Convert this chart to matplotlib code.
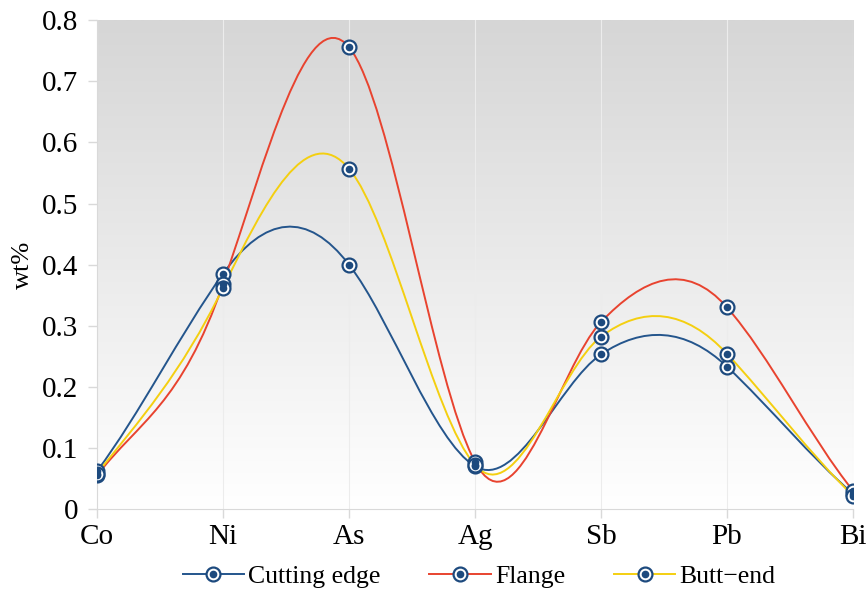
import numpy as np
import matplotlib
matplotlib.use("Agg")
import matplotlib.pyplot as plt
from matplotlib.path import Path
from matplotlib.patches import PathPatch
from matplotlib.lines import Line2D
from matplotlib.colors import LinearSegmentedColormap

# data (wt%)
elements = ["Co", "Ni", "As", "Ag", "Sb", "Pb", "Bi"]
cutting_edge = [0.062, 0.385, 0.400, 0.070, 0.253, 0.233, 0.025]
flange = [0.055, 0.368, 0.756, 0.077, 0.306, 0.330, 0.030]
butt_end = [0.058, 0.362, 0.557, 0.072, 0.282, 0.254, 0.022]

series_names = ["Cutting edge", "Flange", "Butt\u2212end"]
line_colors = ["#24558c", "#e8432f", "#f4cf10"]
marker_dark = "#1d4a7e"

plt.rcParams["font.family"] = ["Liberation Serif", "DejaVu Serif"]

fig = plt.figure(figsize=(8.66, 5.96), dpi=100)
ax = fig.add_axes([0.112, 0.146, 0.873, 0.820])

x = np.arange(len(elements))


def smooth_path(xs, ys, k=1.7):
    # excel-like smoothed line: cubic bezier segments through the points
    n = len(ys)
    m = []
    for i in range(n):
        a = ys[max(i - 1, 0)]
        b = ys[min(i + 1, n - 1)]
        m.append(k * (b - a) / 2.0)
    verts = [(xs[0], ys[0])]
    codes = [Path.MOVETO]
    for i in range(n - 1):
        verts += [(xs[i] + 1 / 3, ys[i] + m[i] / 3),
                  (xs[i + 1] - 1 / 3, ys[i + 1] - m[i + 1] / 3),
                  (xs[i + 1], ys[i + 1])]
        codes += [Path.CURVE4] * 3
    return Path(verts, codes)


# grey-to-white background
cmap = LinearSegmentedColormap.from_list("bg", ["#ffffff", "#d6d6d6"])
ax.imshow(np.linspace(0, 1, 256).reshape(-1, 1), cmap=cmap, aspect="auto",
          extent=[0, 1, 0, 1], origin="lower", transform=ax.transAxes, zorder=0)

handles = []
for vals, col, name in zip([cutting_edge, flange, butt_end], line_colors, series_names):
    ax.add_patch(PathPatch(smooth_path(x, vals), fill=False, edgecolor=col,
                           lw=1.4, zorder=3))
    ax.plot(x, vals, ls="none", marker="o", ms=10, mfc="white", mec=marker_dark,
            mew=1.6, zorder=4)
    ax.plot(x, vals, ls="none", marker="o", ms=4.5, color=marker_dark, zorder=5)
    h1 = Line2D([], [], color=col, lw=1.4, marker="o", ms=10, mfc="white",
                mec=marker_dark, mew=1.6)
    h2 = Line2D([], [], ls="none", marker="o", ms=4.5, color=marker_dark)
    handles.append((h1, h2))

ax.set_xlim(0, len(elements) - 1)
ax.set_ylim(0, 0.8)
ax.set_xticks(x)
ax.set_xticklabels(elements)
ax.set_yticks(np.arange(0, 0.81, 0.1))
ax.set_yticklabels(["0"] + ["%.1f" % v for v in np.arange(0.1, 0.81, 0.1)])
ax.tick_params(labelsize=21, length=6.5, color="#d9d9d9", width=1)
ax.tick_params(axis="y", pad=7)
ax.tick_params(axis="x", pad=4)
ax.grid(axis="x", color="#ececec", lw=0.8, zorder=1)

for s in ["top", "right"]:
    ax.spines[s].set_visible(False)
for s in ["left", "bottom"]:
    ax.spines[s].set_color("#d9d9d9")
ax.set_ylabel("wt%", fontsize=19, labelpad=6)

fig.legend(handles, series_names, loc="center", ncol=3, frameon=False,
           bbox_to_anchor=(0.553, 0.032), fontsize=18.5, handlelength=2.4,
           columnspacing=1.9, handletextpad=0.15)

fig.savefig("out.png", dpi=100)
